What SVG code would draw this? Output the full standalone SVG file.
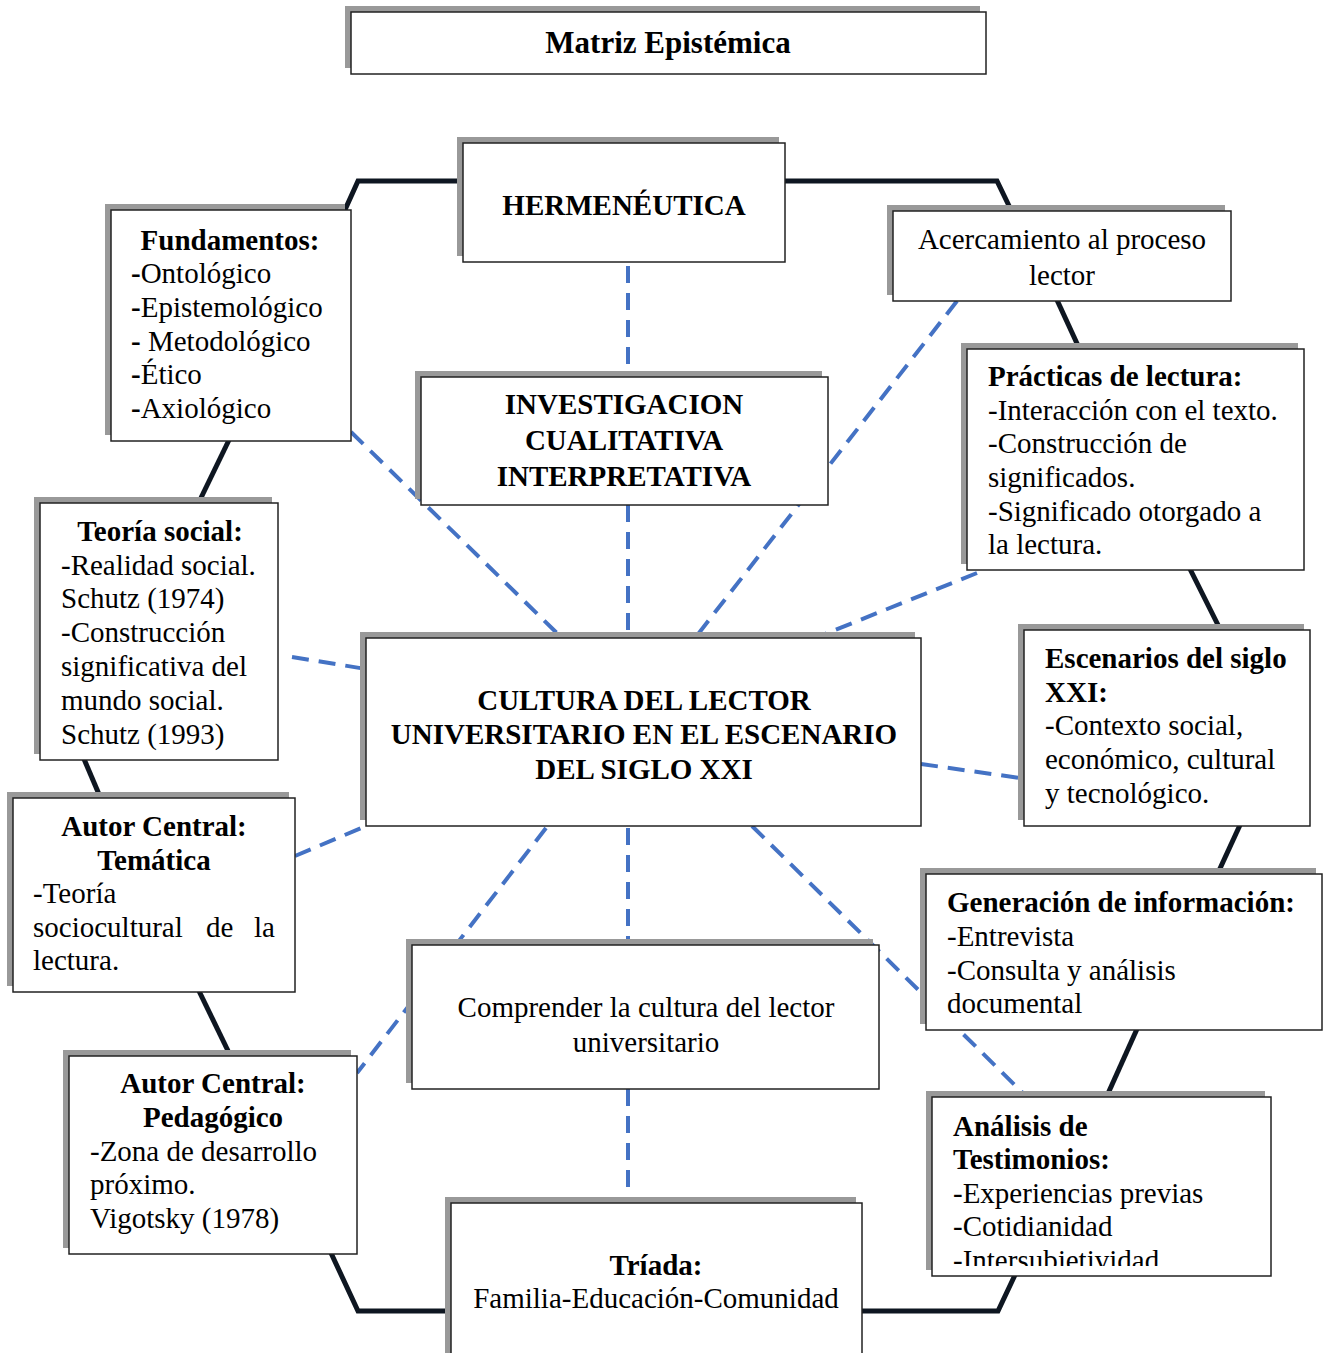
<svg xmlns="http://www.w3.org/2000/svg" width="1330" height="1353" viewBox="0 0 1330 1353">
<defs>
<style>
text{font-family:"Liberation Serif","Times New Roman",serif;font-size:29px;fill:#000}
.b{font-weight:bold}
.c{text-anchor:middle}
.sh{fill:#999}
.bx{fill:#fff;stroke:#222;stroke-width:1.5}
.solid{fill:none;stroke:#0e1621;stroke-width:5;stroke-linejoin:miter}
.dash{fill:none;stroke:#4472c4;stroke-width:4;stroke-dasharray:17 10}
</style>
<clipPath id="clipAn"><rect x="932" y="1097" width="339" height="169"/></clipPath>
</defs>
<rect width="1330" height="1353" fill="#fff"/>

<g id="connectors">
<polyline class="solid" points="344,212 358,181 465,181"/>
<polyline class="solid" points="783,181 997,181 1012,212"/>
<line class="solid" x1="1057" y1="300" x2="1080" y2="350"/>
<line class="solid" x1="1190" y1="569" x2="1221" y2="631"/>
<line class="solid" x1="1240" y1="825" x2="1217" y2="875"/>
<line class="solid" x1="1137" y1="1029" x2="1106" y2="1098"/>
<polyline class="solid" points="1015,1275 998,1311 860,1311"/>
<polyline class="solid" points="453,1311 358,1311 331,1253"/>
<line class="solid" x1="231" y1="1057" x2="199" y2="991"/>
<line class="solid" x1="101" y1="799" x2="84" y2="759"/>
<line class="solid" x1="198" y1="504" x2="229" y2="440"/>

<line class="dash" x1="628" y1="266" x2="628" y2="377"/>
<line class="dash" x1="628" y1="505" x2="628" y2="638"/>
<line class="dash" x1="351" y1="432" x2="562" y2="638"/>
<line class="dash" x1="957" y1="301" x2="695" y2="638"/>
<line class="dash" x1="977" y1="573" x2="815" y2="638"/>
<line class="dash" x1="292" y1="657" x2="366" y2="669"/>
<line class="dash" x1="921" y1="764" x2="1020" y2="778"/>
<line class="dash" x1="295" y1="856" x2="366" y2="826"/>
<line class="dash" x1="546" y1="828" x2="357" y2="1073"/>
<line class="dash" x1="628" y1="828" x2="628" y2="945"/>
<line class="dash" x1="628" y1="1089" x2="628" y2="1203"/>
<line class="dash" x1="752" y1="826" x2="1027" y2="1097"/>
</g>

<g id="title">
<rect class="sh" x="345" y="6" width="635" height="62"/>
<rect class="bx" x="351" y="12" width="635" height="62"/>
<text class="b c" x="668" y="53" style="font-size:31px">Matriz Epistémica</text>
</g>

<g id="hermeneutica">
<rect class="sh" x="457" y="137" width="322" height="119"/>
<rect class="bx" x="463" y="143" width="322" height="119"/>
<text class="b c" x="624" y="215">HERMENÉUTICA</text>
</g>

<g id="fundamentos">
<rect class="sh" x="105" y="204" width="240" height="231"/>
<rect class="bx" x="111" y="210" width="240" height="231"/>
<text class="b c" x="230" y="250">Fundamentos:</text>
<text x="131" y="283"><tspan class="b">-</tspan>Ontológico</text>
<text x="131" y="317"><tspan class="b">-</tspan>Epistemológico</text>
<text x="131" y="351"><tspan class="b">-</tspan> Metodológico</text>
<text x="131" y="384"><tspan class="b">-</tspan>Ético</text>
<text x="131" y="418"><tspan class="b">-</tspan>Axiológico</text>
</g>

<g id="acercamiento">
<rect class="sh" x="887" y="205" width="338" height="90"/>
<rect class="bx" x="893" y="211" width="338" height="90"/>
<text class="c" x="1062" y="249">Acercamiento al proceso</text>
<text class="c" x="1062" y="285">lector</text>
</g>

<g id="investigacion">
<rect class="sh" x="415" y="371" width="407" height="128"/>
<rect class="bx" x="421" y="377" width="407" height="128"/>
<text class="b c" x="624" y="414">INVESTIGACION</text>
<text class="b c" x="624" y="450">CUALITATIVA</text>
<text class="b c" x="624" y="486">INTERPRETATIVA</text>
</g>

<g id="practicas">
<rect class="sh" x="961" y="343" width="337" height="221"/>
<rect class="bx" x="967" y="349" width="337" height="221"/>
<text class="b" x="988" y="386">Prácticas de lectura:</text>
<text x="988" y="420">-Interacción con el texto.</text>
<text x="988" y="453">-Construcción de</text>
<text x="988" y="487">significados.</text>
<text x="988" y="521">-Significado otorgado a</text>
<text x="988" y="554">la lectura.</text>
</g>

<g id="teoria-social">
<rect class="sh" x="34" y="497" width="238" height="257"/>
<rect class="bx" x="40" y="503" width="238" height="257"/>
<text class="b c" x="160" y="541">Teoría social:</text>
<text x="61" y="575">-Realidad social.</text>
<text x="61" y="608">Schutz (1974)</text>
<text x="61" y="642">-Construcción</text>
<text x="61" y="676">significativa del</text>
<text x="61" y="710">mundo social.</text>
<text x="61" y="744">Schutz (1993)</text>
</g>

<g id="cultura">
<rect class="sh" x="360" y="632" width="555" height="188"/>
<rect class="bx" x="366" y="638" width="555" height="188"/>
<text class="b c" x="644" y="710">CULTURA DEL LECTOR</text>
<text class="b c" x="644" y="744">UNIVERSITARIO EN EL ESCENARIO</text>
<text class="b c" x="644" y="779">DEL SIGLO XXI</text>
</g>

<g id="escenarios">
<rect class="sh" x="1018" y="624" width="286" height="196"/>
<rect class="bx" x="1024" y="630" width="286" height="196"/>
<text class="b" x="1045" y="668">Escenarios del siglo</text>
<text class="b" x="1045" y="702">XXI:</text>
<text x="1045" y="735">-Contexto social,</text>
<text x="1045" y="769">económico, cultural</text>
<text x="1045" y="803">y tecnológico.</text>
</g>

<g id="autor-tematica">
<rect class="sh" x="7" y="792" width="282" height="194"/>
<rect class="bx" x="13" y="798" width="282" height="194"/>
<text class="b c" x="154" y="836">Autor Central:</text>
<text class="b c" x="154" y="870">Temática</text>
<text x="33" y="903">-Teoría</text>
<text y="937"><tspan x="33">sociocultural</tspan><tspan x="206">de</tspan><tspan x="254">la</tspan></text>
<text x="33" y="970">lectura.</text>
</g>

<g id="generacion">
<rect class="sh" x="920" y="868" width="396" height="156"/>
<rect class="bx" x="926" y="874" width="396" height="156"/>
<text class="b" x="947" y="912">Generación de información:</text>
<text x="947" y="946">-Entrevista</text>
<text x="947" y="980">-Consulta y análisis</text>
<text x="947" y="1013">documental</text>
</g>

<g id="comprender">
<rect class="sh" x="406" y="939" width="467" height="144"/>
<rect class="bx" x="412" y="945" width="467" height="144"/>
<text class="c" x="646" y="1017">Comprender la cultura del lector</text>
<text class="c" x="646" y="1052">universitario</text>
</g>

<g id="autor-pedagogico">
<rect class="sh" x="63" y="1050" width="288" height="198"/>
<rect class="bx" x="69" y="1056" width="288" height="198"/>
<text class="b c" x="213" y="1093">Autor Central:</text>
<text class="b c" x="213" y="1127">Pedagógico</text>
<text x="90" y="1161">-Zona de desarrollo</text>
<text x="90" y="1194">próximo.</text>
<text x="90" y="1228">Vigotsky (1978)</text>
</g>

<g id="analisis">
<rect class="sh" x="926" y="1091" width="339" height="179"/>
<rect class="bx" x="932" y="1097" width="339" height="179"/>
<g clip-path="url(#clipAn)">
<text class="b" x="953" y="1136">Análisis de</text>
<text class="b" x="953" y="1169">Testimonios:</text>
<text x="953" y="1203">-Experiencias previas</text>
<text x="953" y="1236">-Cotidianidad</text>
<text x="953" y="1270">-Intersubjetividad</text>
</g>
</g>

<g id="triada">
<rect class="sh" x="445" y="1197" width="411" height="170"/>
<rect class="bx" x="451" y="1203" width="411" height="170"/>
<text class="b c" x="656" y="1275">Tríada:</text>
<text class="c" x="656" y="1308">Familia-Educación-Comunidad</text>
</g>
</svg>
